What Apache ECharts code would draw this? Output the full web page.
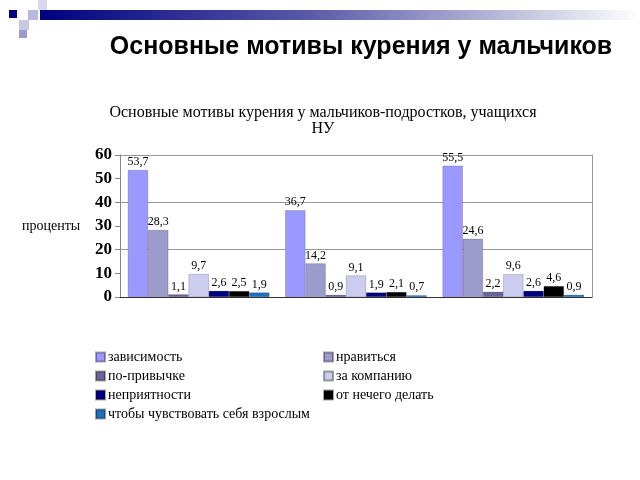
<!DOCTYPE html>
<html><head><meta charset="utf-8">
<script src="https://cdn.jsdelivr.net/npm/echarts@6/dist/echarts.min.js"></script>
<style>html,body{margin:0;padding:0;background:#fff}#c{width:640px;height:480px}</style>
</head><body><div id="c"></div>
<script>
const categories = ['Группа 1', 'Группа 2', 'Группа 3'];
const seriesNames = ['зависимость','нравиться','по-привычке','за компанию','неприятности','от нечего делать','чтобы чувствовать себя взрослым'];
const zavisimost = [53.7, 36.7, 55.5];
const nravitsya = [28.3, 14.2, 24.6];
const poPrivychke = [1.1, 0.9, 2.2];
const zaKompaniyu = [9.7, 9.1, 9.6];
const nepriyatnosti = [2.6, 1.9, 2.6];
const otNechego = [2.5, 2.1, 4.6];
const vzroslym = [1.9, 0.7, 0.9];
const yTicks = [0, 10, 20, 30, 40, 50, 60];

const values = [zavisimost, nravitsya, poPrivychke, zaKompaniyu, nepriyatnosti, otNechego, vzroslym];
const colors = ['#9999ff','#9b9bcc','#666699','#ccccf0','#000080','#000000','#1f6fc0'];
const serif = '"Liberation Serif","DejaVu Serif",serif';

const chart = echarts.init(document.getElementById('c'));
chart.setOption({
  animation: false,
  backgroundColor: '#fff',
  title: [
    {text: 'Основные мотивы курения у мальчиков', left: 356, top: 30, textAlign: 'center',
     textStyle: {fontFamily: '"Liberation Sans",Arial,sans-serif', fontSize: 25, fontWeight: 'bold', color: '#000'}},
    {text: 'Основные мотивы курения у мальчиков-подростков, учащихся\nНУ', left: 318, top: 100, textAlign: 'center',
     textStyle: {fontFamily: serif, fontSize: 16, fontWeight: 'normal', color: '#000', lineHeight: 16}}
  ],
  graphic: [
    {type: 'rect', shape: {x: 40, y: 10, width: 600, height: 10},
     style: {fill: new echarts.graphic.LinearGradient(0, 0, 1, 0, [
       {offset: 0, color: '#000080'}, {offset: 0.45, color: '#5a5aa8'}, {offset: 1, color: '#ffffff'}])}},
    {type: 'rect', shape: {x: 9, y: 10, width: 8, height: 8}, style: {fill: '#000080'}},
    {type: 'rect', shape: {x: 28, y: 10, width: 10, height: 10}, style: {fill: '#b8b8dc'}},
    {type: 'rect', shape: {x: 38, y: 0, width: 9, height: 10}, style: {fill: '#d8d8ec'}},
    {type: 'rect', shape: {x: 19, y: 20, width: 10, height: 10}, style: {fill: '#c8c8e4'}},
    {type: 'rect', shape: {x: 19, y: 30, width: 8, height: 8}, style: {fill: '#9a9acc'}},
    {type: 'text', left: 22, top: 219, style: {text: 'проценты', font: '14px ' + serif, fill: '#000'}}
  ],
  legend: [
    {orient: 'vertical', left: 90, top: 345, itemWidth: 9, itemHeight: 9, itemGap: 5,
     data: [seriesNames[0], seriesNames[2], seriesNames[4], seriesNames[6]],
     textStyle: {fontFamily: serif, fontSize: 14, color: '#000', padding: [0,0,0,-2]}, icon: 'rect'},
    {orient: 'vertical', left: 318, top: 345, itemWidth: 9, itemHeight: 9, itemGap: 5,
     data: [seriesNames[1], seriesNames[3], seriesNames[5]],
     textStyle: {fontFamily: serif, fontSize: 14, color: '#000', padding: [0,0,0,-2]}, icon: 'rect'}
  ],
  grid: {left: 120, right: 48, top: 155, bottom: 183},
  xAxis: {type: 'category', data: categories,
    axisLine: {show: true, lineStyle: {color: '#333', width: 1}},
    axisTick: {show: false}, axisLabel: {show: false}},
  yAxis: [
    {type: 'value', min: yTicks[0], max: yTicks[yTicks.length-1], interval: 10,
     axisLine: {show: true, lineStyle: {color: '#888'}},
     axisTick: {show: true, length: 5, lineStyle: {color: '#888'}},
     axisLabel: {fontFamily: serif, fontSize: 17, fontWeight: 'bold', color: '#000', margin: 8},
     splitLine: {show: false}},
    {type: 'value', min: yTicks[0], max: yTicks[yTicks.length-1], interval: 20, position: 'right',
     axisLine: {show: true, lineStyle: {color: '#999'}}, axisTick: {show: false}, axisLabel: {show: false},
     splitLine: {show: true, lineStyle: {color: '#999', width: 1}}}
  ],
  series: seriesNames.map((n, i) => ({
    name: n, type: 'bar', data: values[i], barGap: '0%', barCategoryGap: '10%',
    itemStyle: {color: colors[i], borderColor: 'rgba(0,0,0,0.35)', borderWidth: 0.5},
    label: {show: true, position: 'top', distance: 2, fontFamily: serif, fontSize: 12, color: '#000',
      formatter: p => String(p.value).replace('.', ',')}
  }))
});
</script></body></html>
